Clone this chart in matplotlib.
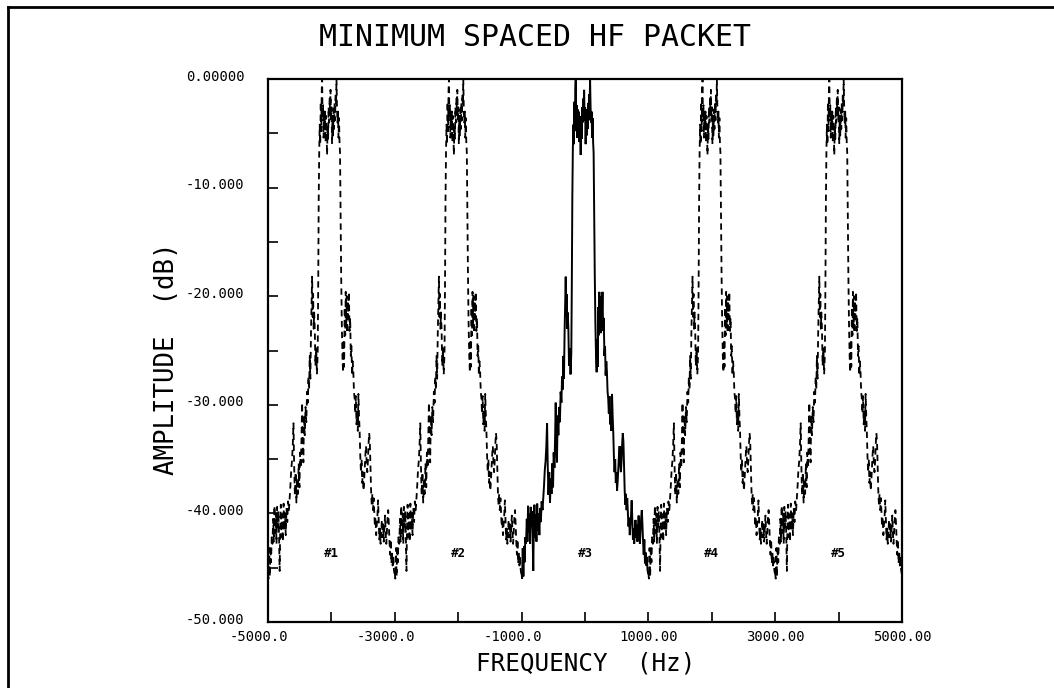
import matplotlib
matplotlib.use("Agg")
import matplotlib.pyplot as plt
import matplotlib.transforms as mtransforms
from matplotlib.lines import Line2D

# ---------------- data ----------------
# one spectral packet: frequency offset from packet centre (Hz) and amplitude (dB)
packet_offset_hz = [
    -1000, -992, -982, -972, -962, -952, -942, -930, -918, -908, -898, -888, -876, -866,
    -856, -846, -836, -826, -816, -808, -798, -788, -776, -766, -754, -744, -732, -720,
    -708, -696, -684, -670, -658, -646, -634, -622, -610, -598, -588, -576, -564, -552,
    -540, -528, -516, -504, -494, -482, -472, -462, -452, -442, -432, -420, -408, -396,
    -384, -372, -362, -352, -342, -332, -322, -312, -304, -296, -288, -280, -272, -262,
    -252, -240, -228, -216, -208, -200, -192, -184, -176, -168, -160, -152, -146, -140,
    -132, -124, -116, -108, -100, -92, -84, -76, -68, -60, -52, -44, -36, -28, -20, -14,
    -6, 2, 10, 18, 26, 34, 42, 50, 58, 66, 74, 80, 88, 96, 104, 112, 120, 128, 136, 144,
    154, 164, 174, 184, 192, 200, 210, 218, 226, 234, 242, 250, 258, 266, 276, 286, 296,
    306, 316, 326, 336, 346, 356, 366, 376, 386, 396, 406, 416, 426, 436, 446, 456, 466,
    476, 486, 496, 506, 516, 526, 536, 546, 556, 566, 576, 586, 596, 606, 616, 626, 636,
    646, 656, 666, 676, 686, 696, 706, 716, 726, 736, 746, 756, 766, 776, 786, 796, 806,
    816, 826, 836, 846, 856, 866, 876, 886, 896, 906, 916, 926, 936, 946, 956, 966, 976,
    986, 994, 1000]
packet_db = [
    -45.5, -46.0, -43.2, -45.8, -43.0, -44.5, -42.2, -42.8, -40.5, -42.6, -39.3, -41.8, -40.0, -42.8,
    -39.4, -41.2, -39.8, -42.0, -45.3, -41.5, -39.2, -42.2, -40.1, -42.6, -39.1, -41.6, -40.0, -42.0,
    -39.5, -40.8, -38.9, -39.7, -38.6, -37.4, -36.0, -35.2, -33.8, -31.7, -35.5, -38.3, -36.2, -39.0,
    -36.8, -38.2, -35.4, -37.6, -34.4, -35.8, -33.2, -29.8, -33.5, -35.3, -31.0, -32.8, -30.2, -31.6,
    -28.8, -29.8, -27.4, -28.6, -25.5, -27.6, -23.4, -20.6, -18.2, -21.9, -19.8, -23.0, -21.5, -23.1,
    -26.4, -24.8, -27.2, -25.2, -19.0, -11.0, -6.6, -4.2, -6.0, -2.1, -4.8, -1.0, 0.0, -3.6,
    -2.4, -5.4, -2.8, -4.6, -3.0, -5.8, -3.4, -5.0, -7.0, -4.2, -5.5, -2.6, -4.0, -1.8, -3.2, -1.0,
    -3.8, -2.6, -6.0, -3.4, -5.2, -2.8, -4.6, -2.2, -3.8, -1.4, -2.4, 0.0, -2.6, -4.0, -3.0, -5.4,
    -3.6, -5.8, -6.8, -12.0, -18.0, -22.5, -25.5, -27.0, -24.0, -26.5, -21.0, -23.6, -19.6, -22.8,
    -20.0, -23.4, -20.4, -22.0, -19.6, -23.2, -22.0, -25.5, -24.6, -27.3, -26.0, -27.0, -28.8, -29.4,
    -30.8, -29.2, -31.8, -30.6, -32.4, -29.0, -31.0, -32.6, -34.8, -36.2, -35.0, -37.2, -36.2, -37.9,
    -37.0, -35.8, -34.6, -33.8, -35.4, -36.2, -35.2, -33.6, -32.6, -33.4, -35.8, -37.9, -39.2, -38.2,
    -39.7, -38.6, -40.0, -41.2, -40.4, -42.0, -41.0, -40.2, -38.8, -40.6, -42.4, -41.4, -42.8, -41.6,
    -40.6, -42.2, -41.0, -42.6, -41.4, -40.2, -41.8, -42.8, -41.6, -40.4, -39.7, -41.0, -42.6, -43.8,
    -42.4, -44.6, -43.6, -44.8, -44.0, -45.2, -45.5, -45.5]

packet_centers_hz = [-4000, -2000, 0, 2000, 4000]
packet_labels = ["#1", "#2", "#3", "#4", "#5"]
packet_styles = ["dashed", "dashed", "solid", "dashed", "dashed"]
label_level_db = -43.7

xtick_values = [-5000, -3000, -1000, 1000, 3000, 5000]
xtick_labels = ["-5000.0", "-3000.0", "-1000.0", "1000.00", "3000.00", "5000.00"]
xminor_values = [-4000, -2000, 0, 2000, 4000]
ytick_values = [0, -10, -20, -30, -40, -50]
ytick_labels = ["0.00000", "-10.000", "-20.000", "-30.000", "-40.000", "-50.000"]
yminor_values = [-5, -15, -25, -35, -45]

title_text = "MINIMUM SPACED HF PACKET"
xlabel_text = "FREQUENCY  (Hz)"
ylabel_text = "AMPLITUDE  (dB)"

# ---------------- figure ----------------
W, H = 1054, 688
fig = plt.figure(figsize=(W / 100, H / 100), dpi=100)
mono = "DejaVu Sans Mono"

ax = fig.add_axes([268 / W, 1 - 622 / H, (902 - 268) / W, (622 - 79) / H])
ax.set_xlim(-5000, 5000)
ax.set_ylim(-50, 0)

for c, lab, sty in zip(packet_centers_hz, packet_labels, packet_styles):
    xs = [c + o for o in packet_offset_hz]
    if sty == "solid":
        ax.plot(xs, packet_db, color="black", lw=1.4, solid_joinstyle="miter", clip_on=True)
    else:
        ax.plot(xs, packet_db, color="black", lw=1.3, linestyle=(0, (3.5, 2.5)), clip_on=True)
    ax.text(c, label_level_db, lab, ha="center", va="center", fontsize=9,
            fontweight="bold", family=mono)

for s in ax.spines.values():
    s.set_linewidth(1.6)

ax.set_xticks(xtick_values)
ax.set_xticklabels(xtick_labels)
ax.set_xticks(xminor_values, minor=True)
ax.set_yticks(ytick_values)
ax.set_yticklabels(ytick_labels)
ax.set_yticks(yminor_values, minor=True)
ax.tick_params(axis="both", which="both", direction="in", length=7.5, width=1.2,
               top=False, right=False, labelsize=10)
ax.tick_params(axis="y", which="major", pad=17)
ax.tick_params(axis="x", which="major", pad=6)
for t in ax.get_xticklabels() + ax.get_yticklabels():
    t.set_family(mono)

# shift negative x labels so the digits centre on the tick, lift y labels slightly
for t in ax.get_xticklabels():
    if t.get_text().startswith("-"):
        t.set_transform(t.get_transform() +
                        mtransforms.ScaledTranslation(-9 / 100, 0, fig.dpi_scale_trans))
for t in ax.get_yticklabels():
    t.set_transform(t.get_transform() +
                    mtransforms.ScaledTranslation(0, 4 / 100, fig.dpi_scale_trans))

fig.text(535 / W, 1 - 37 / H, title_text, ha="center", va="center", fontsize=21.5, family=mono)
fig.text(586 / W, 1 - 663 / H, xlabel_text, ha="center", va="center", fontsize=17.5, family=mono)
fig.text(167 / W, 1 - 359 / H, ylabel_text, ha="center", va="center", fontsize=18.5,
         family=mono, rotation=90)

# page border (top and left edges)
fig.add_artist(Line2D([8 / W, 1.0], [1 - 7 / H, 1 - 7 / H], color="black", lw=2.0,
                      transform=fig.transFigure))
fig.add_artist(Line2D([8 / W, 8 / W], [0.0, 1 - 7 / H], color="black", lw=2.0,
                      transform=fig.transFigure))

fig.savefig("out.png", dpi=100)
